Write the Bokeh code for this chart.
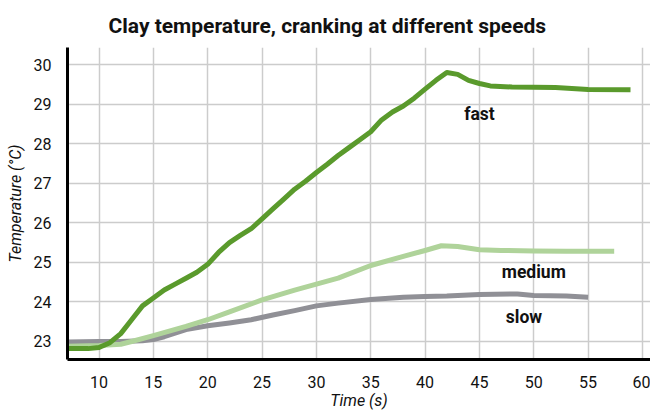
from bokeh.plotting import figure
from bokeh.models import Range1d, ColumnDataSource, SingleIntervalTicker
from bokeh.core.properties import value
from bokeh.embed import file_html
from bokeh.resources import INLINE

# Data (time in s, temperature in °C)
fast_t = [7.1, 9, 10, 11, 12, 13, 14, 15, 16, 17, 18, 19, 20, 21, 22, 23, 24, 25, 26, 27, 28, 29, 30,
          31, 32, 33, 34, 35, 36, 37, 38, 39, 40, 41, 42, 43, 44, 45, 46, 48, 52, 55, 58.9]
fast_temp = [22.82, 22.82, 22.85, 22.97, 23.2, 23.55, 23.9, 24.1, 24.3, 24.45, 24.6, 24.75, 24.95, 25.25,
             25.5, 25.68, 25.85, 26.1, 26.35, 26.6, 26.85, 27.05, 27.27, 27.48, 27.7, 27.9, 28.1, 28.3,
             28.6, 28.8, 28.95, 29.15, 29.38, 29.6, 29.8, 29.75, 29.6, 29.52, 29.46, 29.43, 29.42, 29.37, 29.36]

medium_t = [7.1, 10, 12, 13, 15, 18, 20, 22, 25, 28, 30, 32, 35, 38, 40, 41.5, 43, 45, 47, 50, 53, 57.4]
medium_temp = [22.88, 22.9, 22.93, 23.0, 23.15, 23.38, 23.55, 23.75, 24.05, 24.3, 24.45, 24.6, 24.92,
               25.15, 25.3, 25.42, 25.4, 25.32, 25.3, 25.29, 25.28, 25.28]

slow_t = [7.1, 10, 12, 14, 15, 16, 18, 20, 22, 24, 26, 28, 30, 32, 35, 38, 40, 42, 45, 48.5, 50, 53, 55.0]
slow_temp = [22.99, 23.0, 23.0, 23.02, 23.05, 23.12, 23.3, 23.4, 23.47, 23.55, 23.67, 23.78, 23.9, 23.97,
             24.06, 24.12, 24.14, 24.15, 24.19, 24.2, 24.16, 24.15, 24.12]

label_text = ["fast", "medium", "slow"]
label_x = [45.0, 50.0, 49.1]
label_y = [28.74, 24.75, 23.63]

p = figure(width=650, height=413, output_backend="svg", toolbar_location=None,
           x_range=Range1d(7.1, 60.74), y_range=Range1d(22.545, 30.43),
           min_border_left=67, min_border_right=0, min_border_top=47, min_border_bottom=54)

p.title.text = "Clay temperature, cranking at different speeds"
p.title.align = "left"
p.title.offset = 41
p.title.standoff = 20
p.title.text_font = "Roboto"
p.title.text_font_style = "bold"
p.title.text_font_size = "21px"
p.title.text_color = "#111111"
p.outline_line_color = None

for ax in (p.xaxis[0], p.yaxis[0]):
    ax.axis_line_width = 3
    ax.axis_line_color = "black"
    ax.major_tick_line_color = None
    ax.minor_tick_line_color = None
    ax.major_label_text_font = "Roboto"
    ax.major_label_text_font_size = "16px"
    ax.major_label_text_color = "#111111"
    ax.axis_label_text_font = "Roboto"
    ax.axis_label_text_font_style = "italic"
    ax.axis_label_text_font_size = "16px"
    ax.axis_label_text_color = "#111111"

p.xaxis.ticker = SingleIntervalTicker(interval=5)
p.yaxis.ticker = SingleIntervalTicker(interval=1)
p.xaxis.axis_label = "Time (s)"
p.yaxis.axis_label = "Temperature (°C)"
p.xaxis.major_label_standoff = 10
p.yaxis.major_label_standoff = 10
p.xaxis.axis_label_standoff = 0
p.yaxis.axis_label_standoff = 6

p.xgrid.grid_line_color = "#cccccc"
p.ygrid.grid_line_color = "#cccccc"
p.xgrid.grid_line_width = 1.5
p.ygrid.grid_line_width = 1.5

p.line(slow_t, slow_temp, line_color="#909096", line_width=5, line_join="round")
p.line(medium_t, medium_temp, line_color="#afd39a", line_width=5, line_join="round")
p.line(fast_t, fast_temp, line_color="#5a9a2c", line_width=5, line_join="round")

src = ColumnDataSource(dict(x=label_x, y=label_y, t=label_text))
p.text(x="x", y="y", text="t", source=src, text_align="center", text_baseline="middle",
       text_font=value("Roboto"), text_font_style="bold",
       text_font_size="17.5px", text_color="#111111")

open("out.html", "w").write(file_html(p, INLINE))
